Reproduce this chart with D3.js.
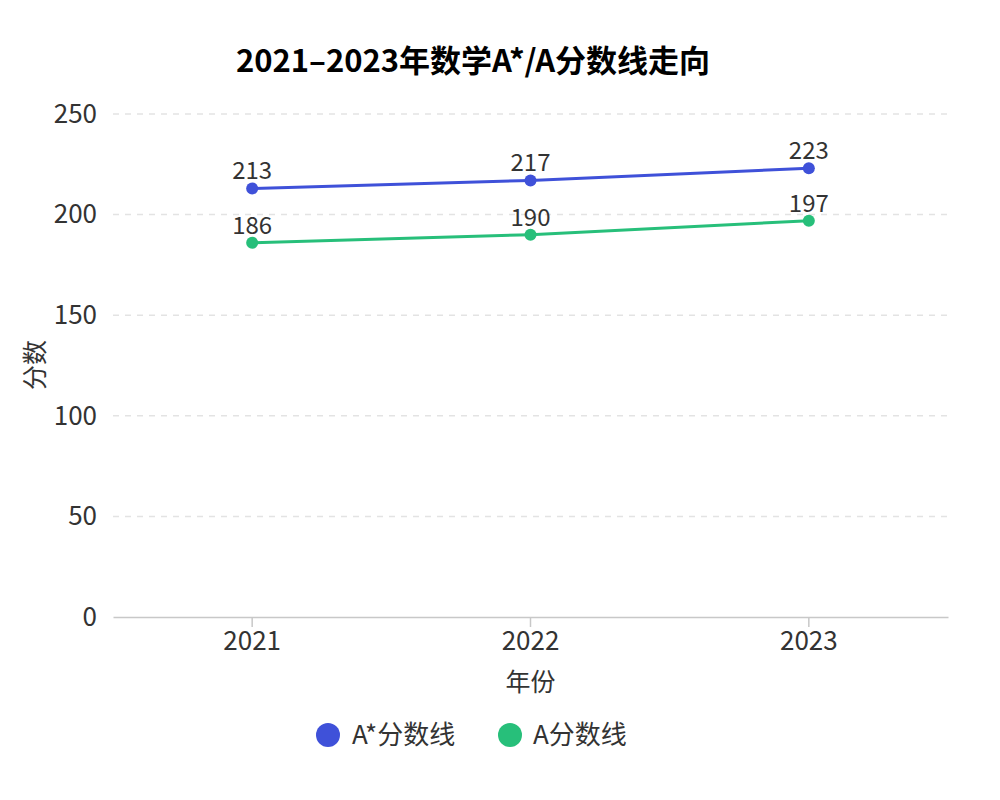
<!DOCTYPE html>
<html><head><meta charset="utf-8">
<script src="https://cdn.jsdelivr.net/npm/d3@7"></script>
<style>body{margin:0;background:#fff;} text{font-family:"Noto Sans CJK SC","Noto Sans",sans-serif;}</style>
</head><body>
<svg id="c" width="1000" height="800"></svg>
<script>
const years = ["2021", "2022", "2023"];
const aStar = [213, 217, 223];
const aLine = [186, 190, 197];
const yTicks = [0, 50, 100, 150, 200, 250];
const seriesNames = ["A*分数线", "A分数线"];
const colors = ["#3F51D9", "#27BF7A"];
const title = "2021–2023年数学A*/A分数线走向";

const svg = d3.select("#c");
const m = {l:113, r:948, t:114, b:617};
const x = d3.scaleBand().domain(years).range([m.l, m.r]);
const y = d3.scaleLinear().domain([0, 250]).range([m.b, m.t]);

svg.append("text").attr("x", 473).attr("y", 72).attr("text-anchor","middle")
  .attr("font-size", 31).attr("font-weight","bold").attr("fill","#000").text(title);

// grid
svg.append("g").selectAll("line").data(yTicks.filter(d=>d>0)).join("line")
  .attr("x1", m.l).attr("x2", m.r).attr("y1", d=>y(d)).attr("y2", d=>y(d))
  .attr("stroke","#e3e3e3").attr("stroke-width",1.5).attr("stroke-dasharray","6,6");

// y axis labels
const ya = svg.append("g").attr("transform",`translate(${m.l},0)`)
  .call(d3.axisLeft(y).tickValues(yTicks).tickSize(0).tickPadding(16));
ya.select(".domain").remove();
ya.selectAll("text").attr("font-size",26).attr("fill","#333").attr("font-family",'"Noto Sans CJK SC",sans-serif');

// x axis
const xa = svg.append("g").attr("transform",`translate(0,${m.b})`)
  .call(d3.axisBottom(x).tickSize(10).tickPadding(5).tickSizeOuter(0));
xa.select(".domain").attr("stroke","#c8c8c8").attr("stroke-width",1.5);
xa.selectAll(".tick line").attr("stroke","#c8c8c8").attr("stroke-width",1.5);
xa.selectAll("text").attr("font-size",26).attr("fill","#333").attr("font-family",'"Noto Sans CJK SC",sans-serif');

svg.append("text").attr("x", (m.l+m.r)/2).attr("y", 691).attr("text-anchor","middle")
  .attr("font-size",25).attr("fill","#333").text("年份");
svg.append("text").attr("transform","translate(44,365) rotate(-90)").attr("text-anchor","middle")
  .attr("font-size",25).attr("fill","#333").text("分数");

const cx = d => x(d) + x.bandwidth()/2;
const series = [aStar, aLine];
series.forEach((vals, i) => {
  const pts = years.map((yr, j) => [yr, vals[j]]);
  svg.append("path").datum(pts)
    .attr("d", d3.line().x(d=>cx(d[0])).y(d=>y(d[1])))
    .attr("fill","none").attr("stroke",colors[i]).attr("stroke-width",3);
  svg.append("g").selectAll("circle").data(pts).join("circle")
    .attr("cx", d=>cx(d[0])).attr("cy", d=>y(d[1])).attr("r",6).attr("fill",colors[i]);
  svg.append("g").selectAll("text").data(pts).join("text")
    .attr("x", d=>cx(d[0])).attr("y", d=>y(d[1])-9).attr("text-anchor","middle")
    .attr("font-size",24).attr("fill","#333").text(d=>d[1]);
});

// legend
const lg = [{x:328, tx:352}, {x:510, tx:533}];
seriesNames.forEach((n,i)=>{
  svg.append("circle").attr("cx", lg[i].x).attr("cy", 735).attr("r", 12).attr("fill", colors[i]);
  svg.append("text").attr("x", lg[i].tx).attr("y", 744).attr("font-size",26).attr("fill","#333").text(n);
});
</script>
</body></html>
